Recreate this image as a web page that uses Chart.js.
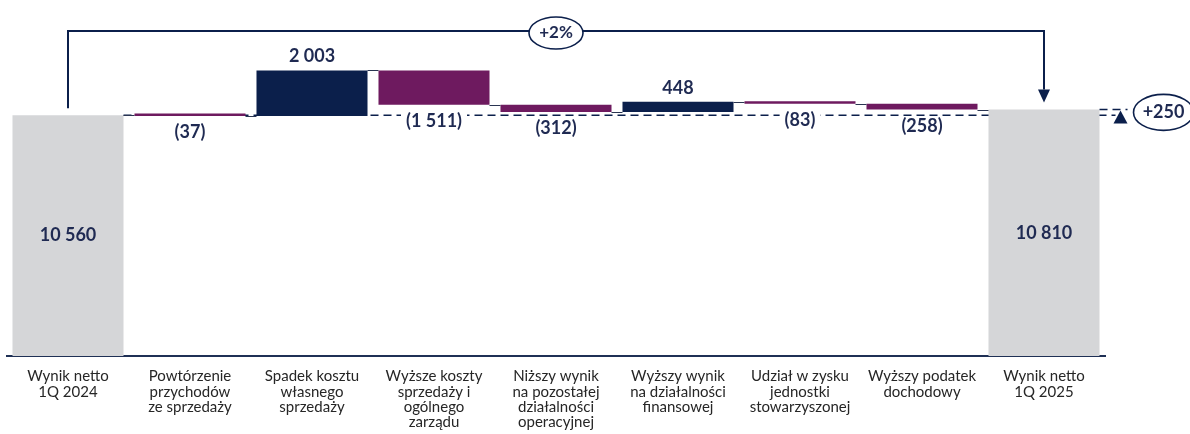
<!DOCTYPE html>
<html>
<head>
<meta charset="utf-8">
<script src="https://cdn.jsdelivr.net/npm/chart.js@4"></script>
<style>
  html, body { margin: 0; padding: 0; background: #fff; }
  #wrap { width: 1190px; height: 434px; position: relative; }
</style>
</head>
<body>
<div id="wrap"><canvas id="bridge"></canvas></div>
<script>
// net result bridge 1Q 2024 -> 1Q 2025 (PLN k)
const categories = [
  ['Wynik netto', '1Q 2024'],
  ['Powtórzenie', 'przychodów', 'ze sprzedaży'],
  ['Spadek kosztu', 'własnego', 'sprzedaży'],
  ['Wyższe koszty', 'sprzedaży i', 'ogólnego', 'zarządu'],
  ['Niższy wynik', 'na pozostałej', 'działalności', 'operacyjnej'],
  ['Wyższy wynik', 'na działalności', 'finansowej'],
  ['Udział w zysku', 'jednostki', 'stowarzyszonej'],
  ['Wyższy podatek', 'dochodowy'],
  ['Wynik netto', '1Q 2025'],
]
const startTotal = 10560
const endTotal = 10810
const changes = [-37, 2003, -1511, -312, 448, -83, -258]

const NAVY = '#0b1f4b'
const PURPLE = '#6e1a5f'
const GREY = '#d5d6d8'
const TEXT = '#1f2a52'

// running level after each bar, and the floating [from, to] spans
const levels = [startTotal]
const spans = [[0, startTotal]]
for (const c of changes) {
  const prev = levels[levels.length - 1]
  spans.push([prev, prev + c])
  levels.push(prev + c)
}
spans.push([0, endTotal])
levels.push(endTotal)
const colors = spans.map((s, i) =>
  i === 0 || i === spans.length - 1 ? GREY : (s[1] >= s[0] ? NAVY : PURPLE))

const thousands = v => String(Math.abs(v)).replace(/\B(?=(\d{3})+(?!\d))/g, ' ')

const overlay = {
  id: 'overlay',
  beforeDatasetsDraw(chart) {
    // dashed reference at the starting level, runs under the bars
    const { ctx } = chart
    const y = chart.scales.y.getPixelForValue(startTotal)
    const bars = chart.getDatasetMeta(0).data
    const last = bars[bars.length - 1]
    ctx.save()
    ctx.strokeStyle = NAVY
    ctx.lineWidth = 1.6
    ctx.setLineDash([8, 5])
    ctx.beginPath()
    ctx.moveTo(bars[0].x + bars[0].width / 2, y)
    ctx.lineTo(last.x + last.width / 2 + 16, y)
    ctx.stroke()
    ctx.restore()
  },
  afterDatasetsDraw(chart) {
    const { ctx, chartArea } = chart
    const ys = chart.scales.y
    const bars = chart.getDatasetMeta(0).data
    const n = bars.length
    ctx.save()

    // step connectors between neighbouring bars
    ctx.strokeStyle = '#2a3552'
    ctx.lineWidth = 1
    for (let i = 0; i < n - 1; i++) {
      const y = Math.round(ys.getPixelForValue(levels[i])) + 0.5
      ctx.beginPath()
      ctx.moveTo(bars[i].x + bars[i].width / 2, y)
      ctx.lineTo(bars[i + 1].x - bars[i + 1].width / 2, y)
      ctx.stroke()
    }

    // value labels; the negative ones sit on a white patch over the dashed line
    ctx.font = 'bold 18px Lato'
    ctx.textAlign = 'center'
    ctx.textBaseline = 'middle'
    bars.forEach((b, i) => {
      const top = Math.min(b.y, b.base)
      const bottom = Math.max(b.y, b.base)
      ctx.fillStyle = TEXT
      if (i === 0 || i === n - 1) {
        ctx.fillText(thousands(spans[i][1]), b.x, (top + bottom) / 2)
        return
      }
      const c = changes[i - 1]
      if (c >= 0) {
        ctx.fillText(thousands(c), b.x, top - 14)
      } else {
        const txt = '(' + thousands(c) + ')'
        const w = ctx.measureText(txt).width + 10
        const y = bottom + 16.5
        ctx.fillStyle = '#fff'
        ctx.fillRect(b.x - w / 2, y - 10, w, 20)
        ctx.fillStyle = TEXT
        ctx.fillText(txt, b.x, y)
      }
    })

    // bracket from first total to last total with the % change
    const first = bars[0]
    const last = bars[n - 1]
    const lineY = chartArea.top + 17
    const firstTop = Math.min(first.y, first.base)
    const lastTop = Math.min(last.y, last.base)
    ctx.strokeStyle = NAVY
    ctx.fillStyle = NAVY
    ctx.lineWidth = 2
    ctx.beginPath()
    ctx.moveTo(first.x, firstTop - 7)
    ctx.lineTo(first.x, lineY)
    ctx.lineTo(last.x, lineY)
    ctx.lineTo(last.x, lastTop - 20)
    ctx.stroke()
    ctx.beginPath()
    ctx.moveTo(last.x - 6, lastTop - 20)
    ctx.lineTo(last.x + 6, lastTop - 20)
    ctx.lineTo(last.x, lastTop - 7)
    ctx.closePath()
    ctx.fill()

    const pct = Math.round((endTotal - startTotal) / startTotal * 100)
    const midX = (first.x + last.x) / 2
    ctx.beginPath()
    ctx.ellipse(midX, lineY + 2, 27, 16, 0, 0, Math.PI * 2)
    ctx.fillStyle = '#fff'
    ctx.fill()
    ctx.lineWidth = 1.6
    ctx.stroke()
    ctx.fillStyle = TEXT
    ctx.font = 'bold 17px Lato'
    ctx.fillText((pct >= 0 ? '+' : '') + pct + '%', midX, lineY + 2)

    // absolute change marker on the right
    const yStart = ys.getPixelForValue(startTotal)
    const yEnd = ys.getPixelForValue(endTotal)
    const right = last.x + last.width / 2
    const arrowX = right + 21
    ctx.strokeStyle = NAVY
    ctx.lineWidth = 1.6
    ctx.setLineDash([8, 5])
    ctx.beginPath()
    ctx.moveTo(right, yEnd)
    ctx.lineTo(arrowX + 7, yEnd)
    ctx.stroke()
    ctx.setLineDash([])
    ctx.fillStyle = NAVY
    ctx.beginPath()
    ctx.moveTo(arrowX - 7, yEnd + 14)
    ctx.lineTo(arrowX + 7, yEnd + 14)
    ctx.lineTo(arrowX, yEnd + 1)
    ctx.closePath()
    ctx.fill()

    const diff = endTotal - startTotal
    const cx = right + 64
    const cy = (yStart + yEnd) / 2
    ctx.beginPath()
    ctx.ellipse(cx, cy, 30, 18, 0, 0, Math.PI * 2)
    ctx.fillStyle = '#fff'
    ctx.fill()
    ctx.stroke()
    ctx.fillStyle = TEXT
    ctx.font = 'bold 18px Lato'
    ctx.fillText((diff >= 0 ? '+' : '-') + thousands(diff), cx, cy)

    ctx.restore()
  },
}

new Chart(document.getElementById('bridge'), {
  type: 'bar',
  data: {
    labels: categories,
    datasets: [{
      data: spans,
      backgroundColor: colors,
      borderWidth: 0,
      borderSkipped: false,
      categoryPercentage: 1,
      barPercentage: 0.91,
      minBarLength: 2.5,
    }],
  },
  options: {
    responsive: true,
    maintainAspectRatio: false,
    animation: false,
    layout: { padding: { left: 7, right: 85, top: 14, bottom: 0 } },
    plugins: { legend: { display: false }, tooltip: { enabled: false } },
    scales: {
      x: {
        grid: { display: false, drawTicks: false },
        border: { display: true, color: '#1f3055', width: 2 },
        ticks: {
          color: '#262626',
          font: { family: 'Lato', size: 15, lineHeight: 1.02 },
          padding: 13,
          maxRotation: 0,
          autoSkip: false,
        },
        afterFit: scale => { scale.height = 78 },
      },
      y: { display: false, min: 0, max: 15000 },
    },
  },
  plugins: [overlay],
})
</script>
</body>
</html>
